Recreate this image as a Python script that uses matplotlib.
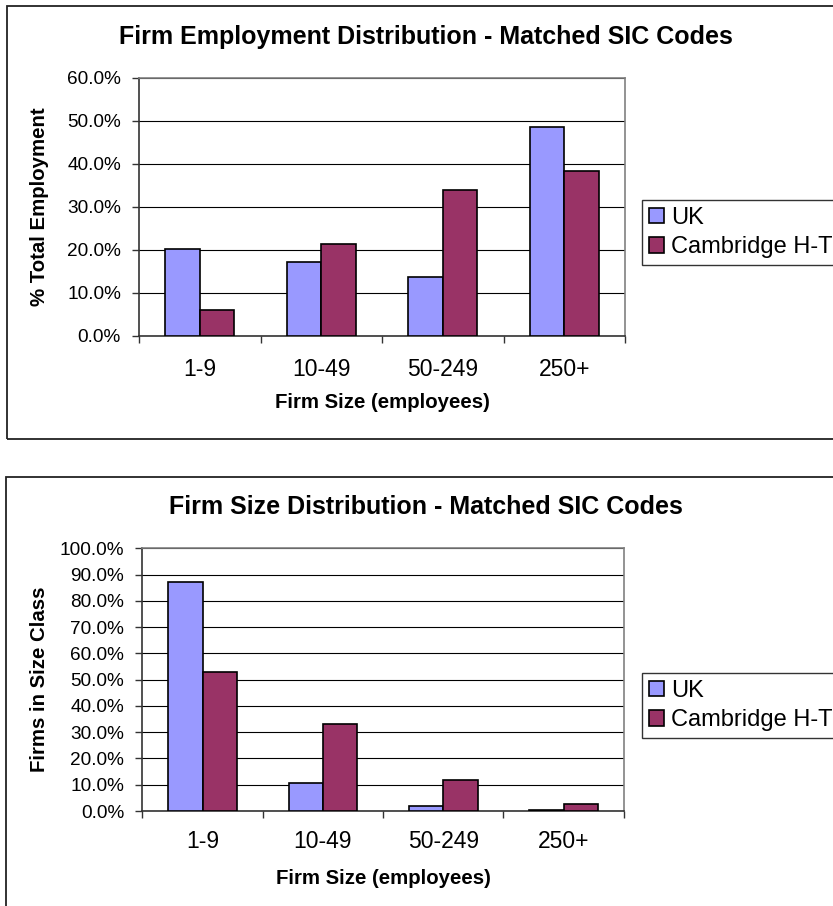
import matplotlib
matplotlib.use("Agg")
import matplotlib.pyplot as plt
import numpy as np
from matplotlib.patches import Rectangle
from matplotlib.ticker import FixedLocator, PercentFormatter

plt.rcParams['font.family'] = ['Liberation Sans', 'DejaVu Sans']

categories = ["1-9", "10-49", "50-249", "250+"]
series_names = ["UK", "Cambridge H-T"]

employment_uk = [20.2, 17.2, 13.7, 48.6]
employment_cht = [6.0, 21.3, 34.0, 38.3]

firms_uk = [87.0, 10.5, 2.0, 0.4]
firms_cht = [52.9, 33.1, 11.9, 2.5]

colors = ["#9999FF", "#993366"]

W, H = 833, 906
fig = plt.figure(figsize=(W / 100, H / 100), dpi=100)


def fx(px):
    return px / W


def fy(py):
    return 1 - py / H


def frame(left, top, bottom, right=W + 20):
    fig.patches.append(Rectangle((fx(left), fy(bottom)), fx(right) - fx(left),
                                 fy(top) - fy(bottom), transform=fig.transFigure,
                                 fill=False, edgecolor="#222222", linewidth=1.3,
                                 clip_on=False))


def bar_chart(box, uk, cht, ymax, ystep, ylabel, title, title_y, legend_top, tick_pad):
    left, top, right, bottom = box
    ax = fig.add_axes([fx(left), fy(bottom), fx(right) - fx(left), fy(top) - fy(bottom)])
    x = np.arange(len(categories))
    bw = 0.285
    ax.bar(x - bw / 2, uk, bw, color=colors[0], edgecolor="black", linewidth=1.2,
           label=series_names[0], zorder=3)
    ax.bar(x + bw / 2, cht, bw, color=colors[1], edgecolor="black", linewidth=1.2,
           label=series_names[1], zorder=3)
    ax.set_xlim(-0.5, len(categories) - 0.5)
    ax.set_ylim(0, ymax)
    yt = np.arange(0, ymax + 0.001, ystep)
    ax.set_yticks(yt)
    ax.yaxis.set_major_formatter(PercentFormatter(decimals=1))
    ax.grid(axis="y", color="black", linewidth=0.8, zorder=0)
    ax.set_axisbelow(True)

    ax.set_xticks(x)
    ax.set_xticklabels(categories, fontsize=16.5)
    ax.xaxis.set_minor_locator(FixedLocator(np.arange(-0.5, len(categories), 1.0)))
    ax.tick_params(axis="x", which="major", length=0, pad=tick_pad)
    ax.tick_params(axis="x", which="minor", length=5, width=1, color="#333333", direction="out")
    ax.tick_params(axis="y", length=5, width=1, color="#333333", direction="out",
                   labelsize=13.7, pad=8)

    for s in ["top", "right"]:
        ax.spines[s].set_color("#808080")
        ax.spines[s].set_linewidth(1.2)
    for s in ["left", "bottom"]:
        ax.spines[s].set_color("#333333")
        ax.spines[s].set_linewidth(1.2)

    ax.set_ylabel(ylabel, fontsize=14.7, fontweight="bold", va="center")
    ax.yaxis.set_label_coords((40 - left) / (right - left), 0.5)
    ax.set_xlabel("Firm Size (employees)", fontsize=14.7, fontweight="bold", va="center")
    ax.xaxis.set_label_coords(0.5, -(67 / (bottom - top)))

    fig.text(fx(426), fy(title_y), title, fontsize=18, fontweight="bold",
             ha="center", va="center")

    leg = ax.legend(loc="upper left", bbox_to_anchor=(fx(642), fy(legend_top)),
                    bbox_transform=fig.transFigure, fontsize=17, frameon=True,
                    fancybox=False, edgecolor="black", borderpad=0.3,
                    handlelength=0.62, handleheight=0.62, handletextpad=0.3,
                    labelspacing=0.3, borderaxespad=0)
    leg.get_frame().set_linewidth(1.0)
    for h in leg.legend_handles:
        h.set_edgecolor("black")
        h.set_linewidth(1.2)
    return ax


frame(7.3, 6, 439)
frame(5.7, 477, H + 20)

bar_chart((139, 77.7, 625, 336), employment_uk, employment_cht, 60, 10,
          "% Total Employment", "Firm Employment Distribution - Matched SIC Codes",
          36.7, 200, 16)
bar_chart((142.4, 548.3, 623.8, 811), firms_uk, firms_cht, 100, 10,
          "Firms in Size Class", "Firm Size Distribution - Matched SIC Codes",
          506.7, 673, 14)

fig.savefig("out.png", dpi=100, facecolor="white")
